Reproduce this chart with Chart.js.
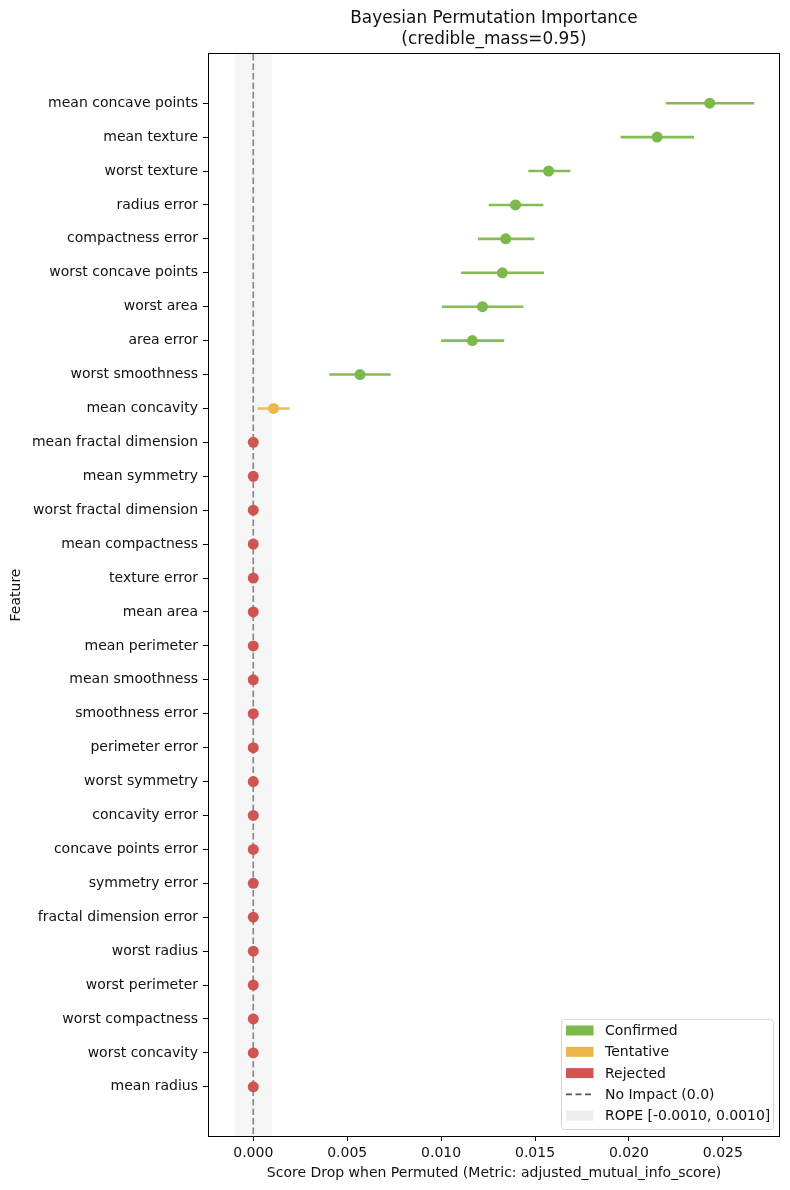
<!DOCTYPE html>
<html>
<head>
<meta charset="utf-8">
<script src="https://cdn.jsdelivr.net/npm/chart.js@4.4.1/dist/chart.umd.min.js"></script>
<style>
  html, body { margin: 0; padding: 0; background: #fff; }
  #wrap { width: 790px; height: 1190px; }
</style>
</head>
<body>
<div id="wrap"><canvas id="chart" width="790" height="1190"></canvas></div>
<script>
// features, top to bottom
var features = ['mean concave points', 'mean texture', 'worst texture', 'radius error',
    'compactness error', 'worst concave points', 'worst area', 'area error',
    'worst smoothness', 'mean concavity', 'mean fractal dimension', 'mean symmetry',
    'worst fractal dimension', 'mean compactness', 'texture error', 'mean area',
    'mean perimeter', 'mean smoothness', 'smoothness error', 'perimeter error',
    'worst symmetry', 'concavity error', 'concave points error', 'symmetry error',
    'fractal dimension error', 'worst radius', 'worst perimeter', 'worst compactness',
    'worst concavity', 'mean radius'];

var means = [0.0243, 0.0215, 0.01572, 0.01396, 0.01344, 0.01326, 0.0122, 0.01166,
    0.00568, 0.00108, 0, 0, 0, 0, 0, 0, 0, 0, 0, 0, 0, 0, 0, 0, 0, 0, 0, 0, 0, 0];
var lows = [0.02196, 0.01956, 0.01464, 0.01254, 0.01196, 0.01106, 0.01004, 0.0100,
    0.00404, 0.00022, 0, 0, 0, 0, 0, 0, 0, 0, 0, 0, 0, 0, 0, 0, 0, 0, 0, 0, 0, 0];
var highs = [0.02666, 0.02346, 0.01688, 0.01544, 0.01496, 0.01548, 0.01438, 0.01336,
    0.00732, 0.00194, 0, 0, 0, 0, 0, 0, 0, 0, 0, 0, 0, 0, 0, 0, 0, 0, 0, 0, 0, 0];
var decisions = ['Confirmed', 'Confirmed', 'Confirmed', 'Confirmed', 'Confirmed', 'Confirmed',
    'Confirmed', 'Confirmed', 'Confirmed', 'Tentative', 'Rejected', 'Rejected', 'Rejected',
    'Rejected', 'Rejected', 'Rejected', 'Rejected', 'Rejected', 'Rejected', 'Rejected',
    'Rejected', 'Rejected', 'Rejected', 'Rejected', 'Rejected', 'Rejected', 'Rejected',
    'Rejected', 'Rejected', 'Rejected'];

var xTicks = [0, 0.005, 0.010, 0.015, 0.020, 0.025];
var rope = [-0.001, 0.001];

var colors = { Confirmed: '#7cb84a', Tentative: '#e9b74a', Rejected: '#cf5454' };
var lineColors = { Confirmed: '#84bd54', Tentative: '#ecbd58', Rejected: '#d46262' };

var FONT = 'DejaVu Sans';

var datasets = [];

// credible interval segments
for (var i = 0; i < features.length; i++) {
    if (highs[i] - lows[i] <= 0) continue;
    datasets.push({
        type: 'scatter',
        label: 'ci' + i,
        data: [{ x: lows[i], y: i }, { x: highs[i], y: i }],
        showLine: true,
        borderColor: lineColors[decisions[i]],
        backgroundColor: lineColors[decisions[i]],
        borderWidth: 2.6,
        pointRadius: 0,
        order: 2
    });
}

// mean points per decision
['Confirmed', 'Tentative', 'Rejected'].forEach(function (s) {
    var pts = [];
    for (var i = 0; i < features.length; i++) {
        if (decisions[i] === s) pts.push({ x: means[i], y: i });
    }
    datasets.push({
        type: 'scatter',
        label: s,
        data: pts,
        backgroundColor: colors[s],
        borderColor: colors[s],
        borderWidth: 0,
        pointRadius: 5.5,
        order: 1
    });
});

// rope band + zero line, under the data
var ropePlugin = {
    id: 'rope',
    beforeDatasetsDraw: function (chart) {
        var ctx = chart.ctx, a = chart.chartArea, x = chart.scales.x;
        var x0 = x.getPixelForValue(rope[0]), x1 = x.getPixelForValue(rope[1]);
        ctx.save();
        ctx.fillStyle = '#f6f6f6';
        ctx.fillRect(x0, a.top, x1 - x0, a.bottom - a.top);
        var z = x.getPixelForValue(0);
        ctx.strokeStyle = '#8a8a8a';
        ctx.lineWidth = 1.7;
        ctx.setLineDash([6.5, 3]);
        ctx.beginPath();
        ctx.moveTo(z, a.top);
        ctx.lineTo(z, a.bottom);
        ctx.stroke();
        ctx.restore();
    }
};

// axes frame, title and legend box
var framePlugin = {
    id: 'frame',
    afterDraw: function (chart) {
        var ctx = chart.ctx, a = chart.chartArea;
        ctx.save();
        ctx.strokeStyle = '#000';
        ctx.lineWidth = 1;
        ctx.strokeRect(Math.round(a.left) + 0.5, Math.round(a.top) - 0.5,
            Math.round(a.right - a.left) - 1, Math.round(a.bottom - a.top) + 1);

        ctx.fillStyle = '#111';
        ctx.textAlign = 'center';
        ctx.textBaseline = 'middle';
        ctx.font = '16.9px "' + FONT + '"';
        var cx = (a.left + a.right) / 2;
        ctx.fillText('Bayesian Permutation Importance', cx, 19);
        ctx.fillText('(credible_mass=0.95)', cx, 40);

        // legend
        var lx = 561, ly = 1019, lw = 212, lh = 110;
        ctx.fillStyle = 'rgba(255,255,255,0.85)';
        ctx.strokeStyle = '#d6d6d6';
        ctx.lineWidth = 1;
        ctx.beginPath();
        ctx.roundRect(lx + 0.5, ly + 0.5, lw, lh, 3);
        ctx.fill();
        ctx.stroke();

        var items = [
            { t: 'Confirmed', c: colors.Confirmed },
            { t: 'Tentative', c: colors.Tentative },
            { t: 'Rejected', c: colors.Rejected },
            { t: 'No Impact (0.0)', dash: true },
            { t: 'ROPE [-0.0010, 0.0010]', c: '#eeeeee' }
        ];
        ctx.font = '14px "' + FONT + '"';
        ctx.textAlign = 'left';
        items.forEach(function (it, k) {
            var y = 1030.5 + k * 21.3;
            if (it.dash) {
                ctx.strokeStyle = '#555';
                ctx.lineWidth = 1.6;
                ctx.setLineDash([6, 3.5]);
                ctx.beginPath();
                ctx.moveTo(566, y);
                ctx.lineTo(594, y);
                ctx.stroke();
                ctx.setLineDash([]);
            } else {
                ctx.fillStyle = it.c;
                ctx.fillRect(566, y - 5, 27.5, 10);
            }
            ctx.fillStyle = '#111';
            ctx.fillText(it.t, 605, y + 1);
        });
        ctx.restore();
    }
};

new Chart(document.getElementById('chart'), {
    type: 'scatter',
    data: { datasets: datasets },
    plugins: [ropePlugin, framePlugin],
    options: {
        responsive: false,
        animation: false,
        layout: { padding: { top: 54, right: 10, left: 0, bottom: 0 } },
        plugins: {
            legend: { display: false },
            title: { display: false },
            tooltip: { enabled: false }
        },
        scales: {
            x: {
                type: 'linear',
                min: -0.00241,
                max: 0.02804,
                afterBuildTicks: function (axis) {
                    axis.ticks = xTicks.map(function (v) { return { value: v }; });
                },
                afterFit: function (axis) { axis.height = 54; },
                border: { display: false },
                grid: { drawOnChartArea: false, drawTicks: true, tickLength: 5, color: '#000' },
                ticks: {
                    color: '#111',
                    padding: 4,
                    maxRotation: 0,
                    autoSkip: false,
                    font: { family: FONT, size: 14 },
                    callback: function (v) { return v.toFixed(3); }
                },
                title: {
                    display: true,
                    text: 'Score Drop when Permuted (Metric: adjusted_mutual_info_score)',
                    color: '#111',
                    font: { family: FONT, size: 14 },
                    padding: { top: 0, bottom: 8 }
                }
            },
            y: {
                type: 'linear',
                reverse: true,
                min: -1.45,
                max: features.length - 1 + 1.45,
                afterBuildTicks: function (axis) {
                    axis.ticks = features.map(function (f, i) { return { value: i }; });
                },
                afterFit: function (axis) { axis.width = 208; },
                border: { display: false },
                grid: { drawOnChartArea: false, drawTicks: true, tickLength: 5, color: '#000' },
                ticks: {
                    color: '#111',
                    padding: 5,
                    autoSkip: false,
                    font: { family: FONT, size: 14 },
                    callback: function (v) { return features[v]; }
                },
                title: {
                    display: true,
                    text: 'Feature',
                    color: '#111',
                    font: { family: FONT, size: 14 },
                    padding: { top: 8, bottom: 0 }
                }
            }
        }
    }
});
</script>
</body>
</html>
